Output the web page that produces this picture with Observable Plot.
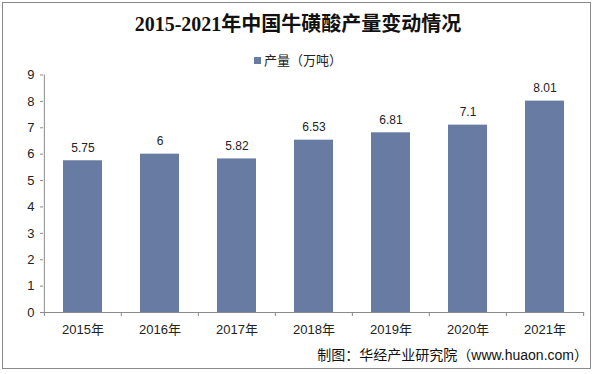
<!DOCTYPE html>
<html><head><meta charset="utf-8">
<script src="https://cdn.jsdelivr.net/npm/d3@7"></script>
<script src="https://cdn.jsdelivr.net/npm/@observablehq/plot@0.6"></script>
<style>
body{margin:0;background:#fff;width:596px;height:374px;overflow:hidden;position:relative;font-family:"Liberation Sans","Noto Sans CJK SC",sans-serif;}
#frame{position:absolute;left:2px;top:2px;width:589px;height:367px;border:1px solid #8a8a8a;box-sizing:border-box;}
#title{position:absolute;left:0;top:8px;width:596px;text-align:center;font-family:"Liberation Serif","Noto Sans CJK SC",serif;font-weight:bold;font-size:20px;color:#111;}
#legend{position:absolute;left:0;top:50px;width:596px;text-align:center;font-size:13px;color:#222;}
#legend span.sw{display:inline-block;width:7px;height:7px;background:#687ca3;margin-right:3px;vertical-align:middle;position:relative;top:-1px;}
#chart{position:absolute;left:0;top:64px;}
#caption{position:absolute;right:8px;top:344px;font-size:14px;color:#111;}
</style></head>
<body>
<div id="frame"></div>
<div id="title">2015-2021年中国牛磺酸产量变动情况</div>
<div id="legend"><span class="sw"></span>产量（万吨）</div>
<div id="chart"></div>
<div id="caption">制图：华经产业研究院（www.huaon.com）</div>
<script>
const years = ["2015年","2016年","2017年","2018年","2019年","2020年","2021年"];
const output = [5.75, 6, 5.82, 6.53, 6.81, 7.1, 8.01];
const labels = ["5.75","6","5.82","6.53","6.81","7.1","8.01"];
const yTicks = [0,1,2,3,4,5,6,7,8,9];

const data = years.map((y,i)=>({year:y, value:output[i], label:labels[i]}));
const W = 596, H = 280, mL = 43, mR = 12;
const step = (W - mL - mR) / years.length;

const chart = Plot.plot({
  width: W, height: H,
  marginLeft: mL, marginRight: mR, marginTop: 10.5, marginBottom: 32,
  style: {fontFamily: '"Liberation Sans","Noto Sans CJK SC",sans-serif', fontSize: "13px", color: "#222", background: "transparent"},
  x: {domain: years, paddingInner: 0.5, paddingOuter: 0.25, label: null},
  y: {domain: [0, 9], label: null},
  marks: [
    Plot.barY(data, {x: "year", y: "value", fill: "#687ca3"}),
    Plot.text(data, {x: "year", y: "value", text: "label", dy: -13, fontSize: 12, fill: "#222"}),
    Plot.ruleY([0], {stroke: "#8a8a8a"}),
    Plot.ruleX([0], {x: () => years[0], dx: -step/2, y1: 0, y2: 9, stroke: "#8a8a8a"}),
    Plot.axisY({ticks: yTicks, tickSize: 3, stroke: "#8a8a8a", tickPadding: 6, fontSize: 13, fill: "#222", label: null}),
    Plot.axisX({tickSize: 0, tickPadding: 12, fontSize: 13, fill: "#222", label: null}),
    Plot.axisX({ticks: years, tickSize: 4, dx: -step/2, text: null, stroke: "#8a8a8a", label: null}),
    Plot.axisX({ticks: years.slice(-1), tickSize: 4, dx: step/2, text: null, stroke: "#8a8a8a", label: null})
  ]
});
document.getElementById("chart").appendChild(chart);
</script>
</body></html>
